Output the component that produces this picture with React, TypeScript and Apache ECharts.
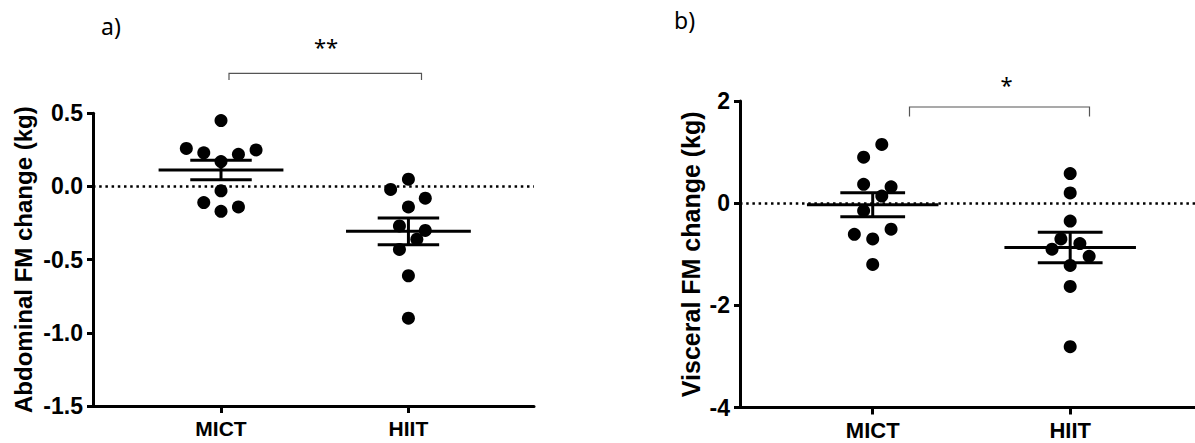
import React, { useEffect, useRef } from "react";
import * as echarts from "echarts";

const categories = ["MICT", "HIIT"];

// Panel a) Abdominal FM change (kg)
const abdMICT = [0.45, 0.26, 0.23, 0.22, 0.25, 0.17, -0.03, -0.11, -0.17, -0.14];
const abdMICTJitter = [0, -0.185, -0.092, 0.093, 0.187, 0, 0, -0.092, 0, 0.093];
const abdHIIT = [0.05, -0.02, -0.08, -0.14, -0.27, -0.3, -0.36, -0.43, -0.61, -0.9];
const abdHIITJitter = [0, -0.095, 0.09, 0, -0.048, 0.09, 0.045, -0.048, 0, 0];

// Panel b) Visceral FM change (kg)
const visMICT = [1.15, 0.9, 0.37, 0.32, 0.14, -0.15, -0.61, -0.51, -0.7, -1.2];
const visMICTJitter = [0.046, -0.046, -0.046, 0.093, 0.046, -0.046, -0.093, 0.093, 0, 0];
const visHIIT = [0.58, 0.2, -0.35, -0.7, -0.79, -0.9, -1.04, -1.22, -1.63, -2.81];
const visHIITJitter = [0, 0, 0, -0.047, 0.049, -0.092, 0.096, 0, 0, 0];

const abdTicks = { min: -1.5, max: 0.5, interval: 0.5 };
const visTicks = { min: -4, max: 2, interval: 2 };

function mean(a: number[]) {
  return a.reduce((s, v) => s + v, 0) / a.length;
}
function sem(a: number[]) {
  const m = mean(a);
  const v = a.reduce((s, x) => s + (x - m) * (x - m), 0) / (a.length - 1);
  return Math.sqrt(v) / Math.sqrt(a.length);
}

const BOLD = "Liberation Sans";
const PLAIN = "Noto Sans";

export default function App() {
  const ref = useRef<HTMLDivElement>(null);
  useEffect(() => {
    if (!ref.current) return;
    const chart = echarts.init(ref.current, null, { renderer: "svg" });

    const pts = (vals: number[], jit: number[], idx: number) =>
      vals.map((v, k) => [idx + jit[k], v]);

    const errRender = (params: any, api: any) => {
      const i = api.value(0);
      const m = api.value(1);
      const s = api.value(2);
      const style = { stroke: "#000", lineWidth: 3 };
      const a = api.coord([i - 0.333, m]);
      const b = api.coord([i + 0.333, m]);
      const c1 = api.coord([i - 0.164, m + s]);
      const c2 = api.coord([i + 0.164, m + s]);
      const d1 = api.coord([i - 0.164, m - s]);
      const d2 = api.coord([i + 0.164, m - s]);
      const v1 = api.coord([i, m + s]);
      const v2 = api.coord([i, m - s]);
      return {
        type: "group",
        children: [
          { type: "line", shape: { x1: a[0], y1: a[1], x2: b[0], y2: b[1] }, style },
          { type: "line", shape: { x1: c1[0], y1: c1[1], x2: c2[0], y2: c2[1] }, style },
          { type: "line", shape: { x1: d1[0], y1: d1[1], x2: d2[0], y2: d2[1] }, style },
          { type: "line", shape: { x1: v1[0], y1: v1[1], x2: v2[0], y2: v2[1] }, style },
        ],
      };
    };

    const xAxisBase = (gridIndex: number, min: number, max: number, fs: number) => ({
      type: "value",
      gridIndex,
      min,
      max,
      axisLine: { show: true, onZero: false, lineStyle: { color: "#000", width: 3 } },
      axisTick: {
        show: true,
        customValues: [0, 1],
        length: 7,
        lineStyle: { color: "#000", width: 3 },
      },
      axisLabel: {
        show: true,
        customValues: [0, 1],
        formatter: (v: number) => categories[Math.round(v)] ?? "",
        fontFamily: BOLD,
        fontWeight: "bold",
        fontSize: fs,
        color: "#000",
        margin: 12,
      },
      splitLine: { show: false },
    });

    const yAxisBase = (
      gridIndex: number,
      t: { min: number; max: number; interval: number },
      name: string,
      nameGap: number,
      nameSize: number,
      dec: number
    ) => ({
      type: "value",
      gridIndex,
      min: t.min,
      max: t.max,
      interval: t.interval,
      name,
      nameLocation: "middle",
      nameGap,
      nameRotate: 90,
      nameTextStyle: { fontFamily: BOLD, fontWeight: "bold", fontSize: nameSize, color: "#000" },
      axisLine: { show: true, onZero: false, lineStyle: { color: "#000", width: 3 } },
      axisTick: { show: true, length: 6, lineStyle: { color: "#000", width: 3 } },
      axisLabel: {
        fontFamily: BOLD,
        fontWeight: "bold",
        fontSize: 23,
        color: "#000",
        margin: 10,
        formatter: (v: number) => v.toFixed(dec),
      },
      splitLine: { show: false },
    });

    const zeroLine = {
      silent: true,
      symbol: ["none", "none"],
      label: { show: false },
      lineStyle: { color: "#000", width: 2.5, type: [2.5, 3.7], opacity: 1 },
      data: [{ yAxis: 0 }],
    };

    const scatter = (data: number[][], xi: number, withZero: boolean) => ({
      type: "scatter",
      xAxisIndex: xi,
      yAxisIndex: xi,
      symbol: "circle",
      symbolSize: 13,
      itemStyle: { color: "#000", opacity: 1 },
      data,
      markLine: withZero ? zeroLine : undefined,
    });

    const option: any = {
      animation: false,
      backgroundColor: "#fff",
      grid: [
        { left: 93, right: 1195 - 534, top: 113.3, bottom: 443 - 406 },
        { left: 740, right: 0, top: 101, bottom: 443 - 407.5 },
      ],
      xAxis: [xAxisBase(0, -0.683, 1.67, 21), xAxisBase(1, -0.672, 1.632, 22)],
      yAxis: [
        yAxisBase(0, abdTicks, "Abdominal FM change (kg)", 58, 24, 1),
        yAxisBase(1, visTicks, "Visceral FM change (kg)", 37, 25, 0),
      ],
      series: [
        scatter(pts(abdMICT, abdMICTJitter, 0), 0, true),
        scatter(pts(abdHIIT, abdHIITJitter, 1), 0, false),
        scatter(pts(visMICT, visMICTJitter, 0), 1, true),
        scatter(pts(visHIIT, visHIITJitter, 1), 1, false),
        {
          type: "custom",
          xAxisIndex: 0,
          yAxisIndex: 0,
          renderItem: errRender,
          data: [
            [0, mean(abdMICT), sem(abdMICT)],
            [1, mean(abdHIIT), sem(abdHIIT)],
          ],
          z: 5,
        },
        {
          type: "custom",
          xAxisIndex: 1,
          yAxisIndex: 1,
          renderItem: errRender,
          data: [
            [0, mean(visMICT), sem(visMICT)],
            [1, mean(visHIIT), sem(visHIIT)],
          ],
          z: 5,
        },
      ],
      graphic: [
        {
          type: "text",
          left: 101,
          top: 14,
          style: { text: "a)", fontFamily: PLAIN, fontSize: 23, fill: "#000" },
        },
        {
          type: "text",
          x: 326,
          y: 46,
          style: {
            text: "**",
            fontFamily: PLAIN,
            fontSize: 22,
            fill: "#000",
            align: "center",
            verticalAlign: "middle",
          },
        },
        {
          type: "polyline",
          shape: { points: [[229, 80], [229, 73.3], [421.5, 73.3], [421.5, 80]] },
          style: { stroke: "#555", lineWidth: 1.2, fill: "none" },
        },
        {
          type: "text",
          left: 674,
          top: 8,
          style: { text: "b)", fontFamily: PLAIN, fontSize: 23, fill: "#000" },
        },
        {
          type: "text",
          x: 1006.5,
          y: 84,
          style: {
            text: "*",
            fontFamily: PLAIN,
            fontSize: 22,
            fill: "#000",
            align: "center",
            verticalAlign: "middle",
          },
        },
        {
          type: "polyline",
          shape: { points: [[909.5, 116.5], [909.5, 107], [1089.5, 107], [1089.5, 116.5]] },
          style: { stroke: "#555", lineWidth: 1.2, fill: "none" },
        },
      ],
    };

    chart.setOption(option);
    return () => chart.dispose();
  }, []);

  return (
    <div
      ref={ref}
      style={{ position: "fixed", left: 0, top: 0, width: 1195, height: 443, background: "#fff" }}
    />
  );
}
